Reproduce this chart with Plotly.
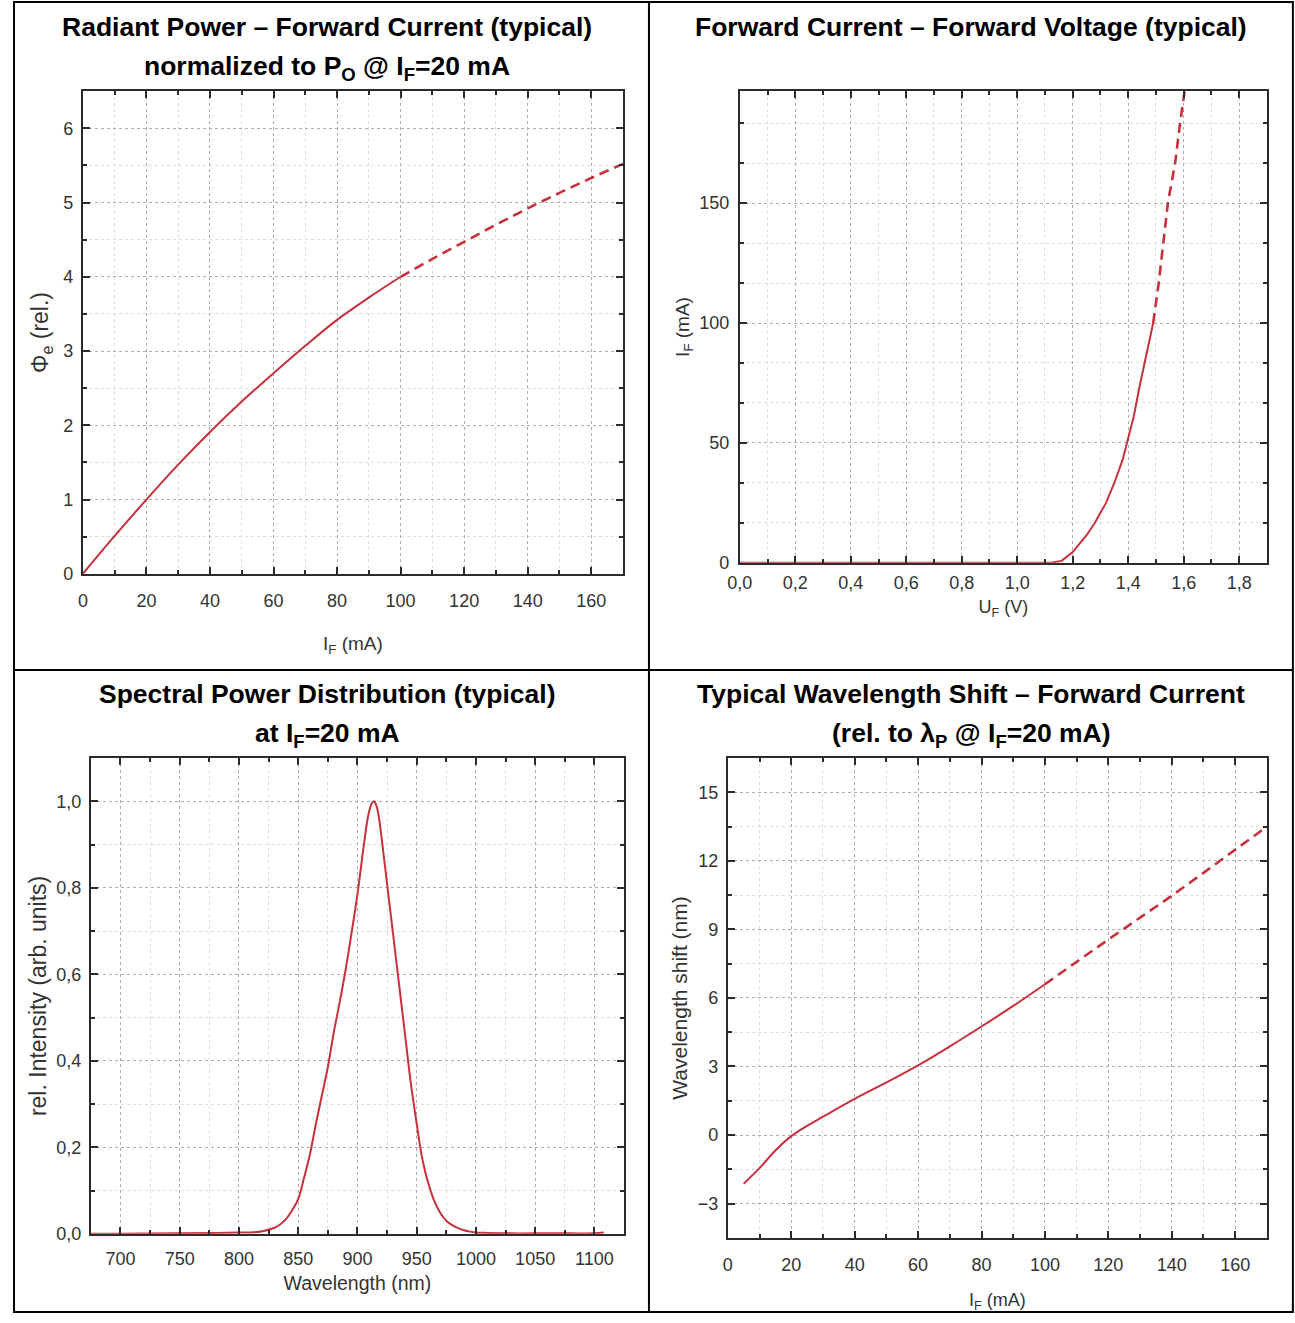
import plotly.graph_objects as go

W, H = 1295, 1323

# ---------------- data ----------------
# Panel 1: Radiant power vs forward current
p1_if_solid = [0, 10, 20, 30, 40, 50, 60, 70, 80, 90, 100]
p1_phi_solid = [0, 0.51, 1.0, 1.47, 1.91, 2.32, 2.7, 3.07, 3.42, 3.72, 4.0]
p1_if_dash = [100, 110, 120, 130, 140, 150, 160, 170]
p1_phi_dash = [4.0, 4.24, 4.47, 4.7, 4.92, 5.13, 5.33, 5.52]

# Panel 2: Forward current vs forward voltage
p2_uf_solid = [0.0, 1.12, 1.16, 1.2, 1.25, 1.28, 1.32, 1.35, 1.38, 1.395, 1.42, 1.44, 1.46, 1.49]
p2_if_solid = [0, 0, 0.8, 4.5, 11.5, 16.7, 25, 33.3, 43, 50, 61, 73, 84, 100]
p2_uf_dash = [1.49, 1.51, 1.543, 1.569, 1.587, 1.603]
p2_if_dash = [100, 116.7, 150, 166.7, 183.3, 196.5]
p2_xtick_vals = [0.0, 0.2, 0.4, 0.6, 0.8, 1.0, 1.2, 1.4, 1.6, 1.8]
p2_xtick_text = ["0,0", "0,2", "0,4", "0,6", "0,8", "1,0", "1,2", "1,4", "1,6", "1,8"]
p2_ytick_vals = [0, 50, 100, 150]

# Panel 3: Spectral power distribution
p3_wl = [675, 700, 750, 780, 800, 810, 820, 830, 835, 840, 845, 850, 855, 860, 865, 870,
         875, 880, 885, 890, 895, 900, 905, 908, 910, 912, 914, 916, 918, 920, 925, 930,
         935, 940, 945, 950, 955, 960, 965, 970, 975, 980, 985, 990, 995, 1000, 1010,
         1030, 1050, 1080, 1100, 1108]
p3_int = [0.0, 0.0, 0.001, 0.002, 0.003, 0.003, 0.006, 0.014, 0.022, 0.035, 0.055, 0.08,
          0.13, 0.185, 0.255, 0.32, 0.385, 0.465, 0.535, 0.61, 0.695, 0.785, 0.89, 0.95, 0.978,
          0.995, 1.0, 0.99, 0.965, 0.925, 0.81, 0.695, 0.58, 0.465, 0.35, 0.255, 0.17, 0.115,
          0.075, 0.048, 0.03, 0.02, 0.013, 0.008, 0.005, 0.003, 0.002, 0.001, 0.001,
          0.001, 0.001, 0.003]
p3_ytick_vals = [0.0, 0.2, 0.4, 0.6, 0.8, 1.0]
p3_ytick_text = ["0,0", "0,2", "0,4", "0,6", "0,8", "1,0"]

# Panel 4: Wavelength shift vs forward current
p4_if_solid = [5, 10, 15, 20, 25, 30, 40, 50, 60, 70, 80, 90, 100]
p4_shift_solid = [-2.13, -1.45, -0.68, -0.05, 0.4, 0.8, 1.58, 2.3, 3.05, 3.88, 4.75, 5.65, 6.6]
p4_if_dash = [100, 120, 140, 160, 170]
p4_shift_dash = [6.6, 8.56, 10.47, 12.48, 13.5]

# ---------------- styling helpers ----------------
RED = "#c8303c"
ARIAL = "Liberation Sans, Arial, sans-serif"
TICKFONT = dict(family=ARIAL, size=18, color="#333333")

# calibration of the photographed page (picture px -> figure px)
SX, OX = 0.9916, 12.0
SY, OY = 0.991, 1.0


def fx(px):
    return max(0.0, (px - OX) / SX) / W


def fy(py):
    return 1 - min(H - 1, (py - OY) / SY) / H


def axis(domain, rng, anchor, dtick=None, minor_dtick=None, tickvals=None, ticktext=None,
         title=None, title_size=19, standoff=10, label_standoff=8):
    d = dict(
        domain=domain, range=rng, anchor=anchor,
        showline=True, linecolor="#2b2b2b", linewidth=2, mirror="allticks",
        ticks="inside", ticklen=7, tickwidth=2, tickcolor="#2b2b2b",
        tickfont=TICKFONT, ticklabelstandoff=label_standoff,
        showgrid=True, gridcolor="#adadad", gridwidth=1, griddash="dot",
        zeroline=False, fixedrange=True,
        minor=dict(ticks="inside", ticklen=4, tickwidth=1.5, tickcolor="#2b2b2b",
                   dtick=minor_dtick, tick0=0,
                   showgrid=True, gridcolor="#dedede", gridwidth=1),
    )
    if tickvals is not None:
        d["tickmode"] = "array"
        d["tickvals"] = tickvals
        if ticktext is not None:
            d["ticktext"] = ticktext
    else:
        d["tickmode"] = "linear"
        d["tick0"] = 0
        d["dtick"] = dtick
    if title is not None:
        d["title"] = dict(text=title, font=dict(family=ARIAL, size=title_size, color="#333333"),
                          standoff=standoff)
    return d


fig = go.Figure()

line_solid = dict(color=RED, width=2)
line_dash = dict(color=RED, width=2.6, dash="10px,6px")

fig.add_trace(go.Scatter(x=p1_if_solid, y=p1_phi_solid, mode="lines", line=line_solid,
                         line_shape="spline", xaxis="x", yaxis="y"))
fig.add_trace(go.Scatter(x=p1_if_dash, y=p1_phi_dash, mode="lines", line=line_dash,
                         line_shape="spline", xaxis="x", yaxis="y"))
fig.add_trace(go.Scatter(x=p2_uf_solid, y=p2_if_solid, mode="lines", line=line_solid,
                         xaxis="x2", yaxis="y2"))
fig.add_trace(go.Scatter(x=p2_uf_dash, y=p2_if_dash, mode="lines", line=line_dash,
                         xaxis="x2", yaxis="y2"))
fig.add_trace(go.Scatter(x=p3_wl, y=p3_int, mode="lines", line=line_solid,
                         line_shape="spline", xaxis="x3", yaxis="y3"))
fig.add_trace(go.Scatter(x=p4_if_solid, y=p4_shift_solid, mode="lines", line=line_solid,
                         line_shape="spline", xaxis="x4", yaxis="y4"))
fig.add_trace(go.Scatter(x=p4_if_dash, y=p4_shift_dash, mode="lines", line=line_dash,
                         xaxis="x4", yaxis="y4"))

layout = dict(
    width=W, height=H, margin=dict(l=0, r=0, t=0, b=0),
    paper_bgcolor="white", plot_bgcolor="white", showlegend=False,
    xaxis=axis([fx(82), fx(623)], [0, 170], "y", dtick=20, minor_dtick=10,
               title="I<sub>F</sub> (mA)", title_size=19, standoff=26,
               label_standoff=10),
    yaxis=axis([fy(574), fy(92)], [0, 6.5], "x", dtick=1, minor_dtick=0.5,
               title="Φ<sub>e</sub> (rel.)", title_size=23, standoff=8,
               label_standoff=4),
    xaxis2=axis([fx(740), fx(1268)], [0, 1.9], "y2", minor_dtick=0.1,
                tickvals=p2_xtick_vals, ticktext=p2_xtick_text,
                title="U<sub>F</sub> (V)", title_size=18, standoff=8,
                label_standoff=3),
    yaxis2=axis([fy(563), fy(92)], [0, 196.7], "x2", minor_dtick=50 / 3,
                tickvals=p2_ytick_vals,
                title="I<sub>F</sub> (mA)", title_size=19, standoff=4,
                label_standoff=5),
    xaxis3=axis([fx(90), fx(624)], [675, 1125], "y3", dtick=50, minor_dtick=25,
                title="Wavelength (nm)", title_size=19.5, standoff=8,
                label_standoff=8),
    yaxis3=axis([fy(1233), fy(758)], [0, 1.1], "x3", minor_dtick=0.1,
                tickvals=p3_ytick_vals, ticktext=p3_ytick_text,
                title="rel. Intensity (arb. units)", title_size=23, standoff=3,
                label_standoff=4),
    xaxis4=axis([fx(728), fx(1268)], [0, 170], "y4", dtick=20, minor_dtick=10,
                title="I<sub>F</sub> (mA)", title_size=18, standoff=19,
                label_standoff=10),
    yaxis4=axis([fy(1237), fy(758)], [-4.5, 16.5], "x4", dtick=3, minor_dtick=1.5,
                title="Wavelength shift (nm)", title_size=21, standoff=4,
                label_standoff=4),
)
fig.update_layout(**layout)

# panel titles
TFONT = dict(family=ARIAL, size=26.5, color="black")
titles = [
    (fx(327), fy(28), "<b>Radiant Power – Forward Current (typical)</b>"),
    (fx(327), fy(69), "<b>normalized to P<sub>O</sub> @ I<sub>F</sub>=20 mA</b>"),
    (fx(972), fy(28), "<b>Forward Current – Forward Voltage (typical)</b>"),
    (fx(327), fy(694), "<b>Spectral Power Distribution (typical)</b>"),
    (fx(327), fy(735), "<b>at I<sub>F</sub>=20 mA</b>"),
    (fx(972), fy(694), "<b>Typical Wavelength Shift – Forward Current</b>"),
    (fx(972), fy(735), "<b>(rel. to λ<sub>P</sub> @ I<sub>F</sub>=20 mA)</b>"),
]
for x, y, t in titles:
    fig.add_annotation(x=x, y=y, xref="paper", yref="paper", text=t, showarrow=False,
                       xanchor="center", yanchor="middle", font=TFONT)

# table borders
BORDER = dict(color="black", width=2)
fig.add_shape(type="rect", xref="paper", yref="paper", x0=fx(6) + 1 / W, x1=fx(1294),
              y0=fy(1321), y1=fy(3), line=BORDER, layer="above")
fig.add_shape(type="line", xref="paper", yref="paper", x0=fx(649), x1=fx(649),
              y0=fy(1321), y1=fy(3), line=BORDER, layer="above")
fig.add_shape(type="line", xref="paper", yref="paper", x0=fx(6), x1=fx(1294),
              y0=fy(670), y1=fy(670), line=BORDER, layer="above")

fig.write_html(
    "out.html",
    config={"displayModeBar": False},
    post_script="document.body.style.margin='0';document.body.style.overflow='hidden';",
)
